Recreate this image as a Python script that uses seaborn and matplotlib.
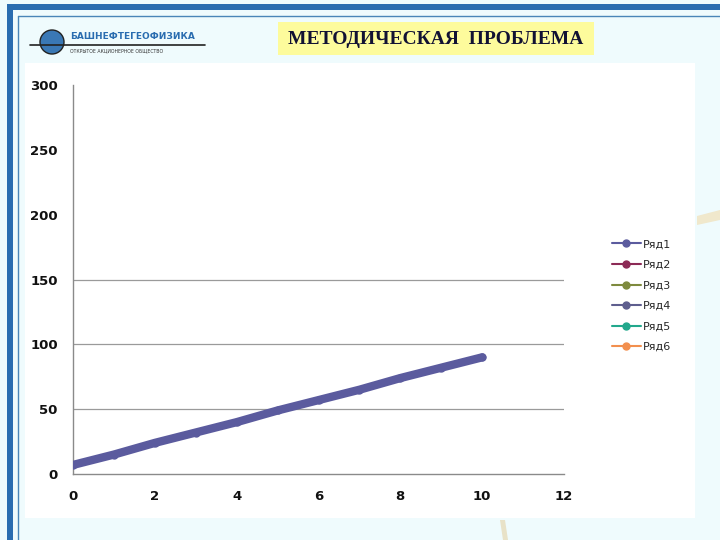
import pandas as pd
import matplotlib
matplotlib.use('Agg')
import matplotlib.pyplot as plt
import matplotlib.patches as mpatches
import seaborn as sns

# values
x_vals = [0, 1, 2, 3, 4, 5, 6, 7, 8, 9, 10]
y_vals = [7, 15, 24, 32, 40, 49, 57, 65, 74, 82, 90]
series_names = ['Ряд1', 'Ряд2', 'Ряд3', 'Ряд4', 'Ряд5', 'Ряд6']
series_colors = ['#5b5b9e', '#8c2a56', '#7e8a3e', '#5e5e8e', '#22a88c', '#f28f4e']
x_ticks = [0, 2, 4, 6, 8, 10, 12]
y_ticks = [0, 50, 100, 150, 200, 250, 300]
grid_levels = [50, 100, 150]
title = 'МЕТОДИЧЕСКАЯ  ПРОБЛЕМА'

sns.set_style('white')
plt.rcParams['font.family'] = ['DejaVu Sans']

df = pd.DataFrame({'x': x_vals, 'y': y_vals})

fig = plt.figure(figsize=(7.2, 5.4), dpi=100)
fig.patch.set_facecolor('#effbfd')

# slide decoration
deco = fig.add_axes([0, 0, 1, 1], zorder=-5)
deco.set_xlim(0, 720)
deco.set_ylim(540, 0)
deco.axis('off')
deco.add_patch(mpatches.Rectangle((25, 63), 670, 455, facecolor='white', edgecolor='none'))
deco.add_patch(mpatches.Rectangle((7, 4), 713, 6, facecolor='#2a6db0', edgecolor='none'))
deco.add_patch(mpatches.Rectangle((7, 4), 6, 536, facecolor='#2a6db0', edgecolor='none'))
deco.plot([18, 18], [16, 540], color='#4a86b8', lw=1)
deco.plot([18, 720], [16, 16], color='#4a86b8', lw=1)
deco.add_patch(mpatches.Polygon([[697, 216], [720, 210], [720, 220], [697, 225]],
                                facecolor='#f0e8cc', edgecolor='none'))
deco.add_patch(mpatches.Polygon([[500, 520], [505, 520], [508, 540], [503, 540]],
                                facecolor='#e8e2c8', edgecolor='none'))
# logo
deco.plot([30, 205], [45, 45], color='#222222', lw=1.2)
deco.add_patch(mpatches.Circle((52, 42), 12, facecolor='#3a78b5', edgecolor='#222222', lw=1))
deco.text(70, 41, 'БАШНЕФТЕГЕОФИЗИКА', color='#2a6db0', fontsize=6.5,
          fontweight='bold', va='bottom', ha='left')
deco.text(70, 48, 'ОТКРЫТОЕ АКЦИОНЕРНОЕ ОБЩЕСТВО', color='#333333', fontsize=3.3,
          va='top', ha='left')
# title box
deco.add_patch(mpatches.Rectangle((278, 22), 316, 33, facecolor='#fdfb9c', edgecolor='none'))
deco.text(436, 39, title, family='Liberation Serif', fontweight='bold', fontsize=14,
          color='#111133', ha='center', va='center')

ax = fig.add_axes([0.1014, 0.1222, 0.682, 0.7204])
ax.set_facecolor('white')

ax.hlines(grid_levels, 0, 12, color='#9a9a9a', lw=0.9, zorder=1)

sns.lineplot(data=df, x='x', y='y', ax=ax, color=series_colors[0], lw=6,
             marker='o', markersize=6, markeredgewidth=0, zorder=3,
             solid_capstyle='round')

ax.set_xlim(0, 12)
ax.set_ylim(0, 300)
ax.set_xticks(x_ticks)
ax.set_yticks(y_ticks)
ax.set_xlabel('')
ax.set_ylabel('')
for s in ['top', 'right']:
    ax.spines[s].set_visible(False)
for s in ['left', 'bottom']:
    ax.spines[s].set_color('#8a8a8a')
    ax.spines[s].set_linewidth(1)
ax.tick_params(axis='x', direction='inout', length=5, color='#8a8a8a', pad=9,
               labelsize=9.5)
ax.tick_params(axis='y', length=0, pad=11, labelsize=9.5)
for lab in ax.get_xticklabels() + ax.get_yticklabels():
    lab.set_fontweight('bold')
    lab.set_color('#111111')

handles = [plt.Line2D([], [], color=c, lw=1.5, marker='o', markersize=5)
           for c in series_colors]
fig.legend(handles, series_names, loc='upper left', bbox_to_anchor=(0.842, 0.567),
           frameon=False, fontsize=8, handlelength=2.6, handletextpad=0.2,
           labelspacing=0.95, borderpad=0)

plt.savefig('out.png', dpi=100)
